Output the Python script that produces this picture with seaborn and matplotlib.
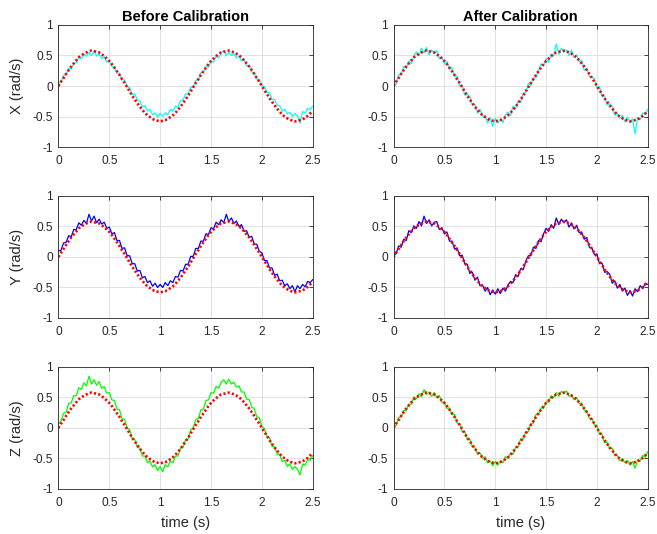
import numpy as np
import matplotlib
matplotlib.use("Agg")
import matplotlib.pyplot as plt
import seaborn as sns

# ---------------- data ----------------
time = np.linspace(0.0, 2.5, 101)

reference = [0.00, 0.07, 0.13, 0.20, 0.26, 0.32, 0.37, 0.42, 0.47, 0.50,
             0.53, 0.55, 0.57, 0.58, 0.57, 0.56, 0.55, 0.52, 0.49, 0.45,
             0.41, 0.36, 0.30, 0.24, 0.18, 0.11, 0.05, -0.02, -0.09, -0.16,
             -0.22, -0.28, -0.34, -0.39, -0.44, -0.48, -0.51, -0.54, -0.56, -0.57,
             -0.58, -0.57, -0.56, -0.54, -0.51, -0.48, -0.44, -0.39, -0.34, -0.28,
             -0.22, -0.16, -0.09, -0.02, 0.05, 0.11, 0.18, 0.24, 0.30, 0.36,
             0.41, 0.45, 0.49, 0.52, 0.55, 0.56, 0.57, 0.58, 0.57, 0.55,
             0.53, 0.50, 0.47, 0.42, 0.37, 0.32, 0.26, 0.20, 0.13, 0.07,
             0.00, -0.07, -0.13, -0.20, -0.26, -0.32, -0.37, -0.42, -0.47, -0.50,
             -0.53, -0.55, -0.57, -0.58, -0.57, -0.56, -0.55, -0.52, -0.49, -0.45,
             -0.41]

before_x = [0.05, 0.06, 0.17, 0.18, 0.29, 0.28, 0.37, 0.38, 0.47, 0.45,
            0.52, 0.49, 0.55, 0.50, 0.58, 0.49, 0.53, 0.45, 0.48, 0.39,
            0.42, 0.32, 0.32, 0.21, 0.21, 0.10, 0.10, -0.01, -0.03, -0.14,
            -0.13, -0.23, -0.25, -0.34, -0.32, -0.41, -0.38, -0.47, -0.44, -0.51,
            -0.45, -0.50, -0.44, -0.47, -0.38, -0.41, -0.33, -0.34, -0.24, -0.23,
            -0.13, -0.13, -0.02, -0.02, 0.09, 0.10, 0.22, 0.22, 0.32, 0.31,
            0.41, 0.39, 0.49, 0.46, 0.54, 0.58, 0.50, 0.55, 0.50, 0.53,
            0.46, 0.49, 0.41, 0.43, 0.33, 0.34, 0.23, 0.22, 0.11, 0.11,
            0.00, -0.01, -0.11, -0.11, -0.22, -0.22, -0.32, -0.32, -0.41, -0.38,
            -0.46, -0.43, -0.50, -0.45, -0.49, -0.61, -0.42, -0.44, -0.37, -0.39,
            -0.33]

before_y = [0.10, 0.11, 0.23, 0.24, 0.35, 0.33, 0.45, 0.45, 0.56, 0.52,
            0.60, 0.55, 0.70, 0.59, 0.67, 0.56, 0.62, 0.54, 0.57, 0.47,
            0.49, 0.38, 0.40, 0.27, 0.27, 0.14, 0.15, 0.02, 0.02, -0.11,
            -0.11, -0.23, -0.22, -0.34, -0.32, -0.42, -0.39, -0.48, -0.43, -0.50,
            -0.45, -0.50, -0.42, -0.47, -0.39, -0.42, -0.32, -0.33, -0.22, -0.23,
            -0.12, -0.12, 0.01, 0.01, 0.14, 0.14, 0.26, 0.26, 0.38, 0.37,
            0.48, 0.46, 0.57, 0.53, 0.61, 0.56, 0.70, 0.58, 0.64, 0.55,
            0.59, 0.50, 0.53, 0.42, 0.43, 0.32, 0.34, 0.21, 0.21, 0.09,
            0.07, -0.06, -0.06, -0.18, -0.18, -0.30, -0.28, -0.39, -0.38, -0.47,
            -0.44, -0.52, -0.47, -0.57, -0.47, -0.52, -0.45, -0.49, -0.40, -0.42,
            -0.37]

before_z = [0.07, 0.11, 0.24, 0.26, 0.40, 0.41, 0.53, 0.53, 0.66, 0.63,
            0.74, 0.69, 0.85, 0.72, 0.79, 0.70, 0.76, 0.65, 0.68, 0.57,
            0.58, 0.46, 0.45, 0.31, 0.30, 0.15, 0.14, 0.00, -0.03, -0.18,
            -0.19, -0.32, -0.33, -0.46, -0.46, -0.57, -0.54, -0.64, -0.60, -0.70,
            -0.63, -0.72, -0.60, -0.64, -0.54, -0.57, -0.46, -0.46, -0.33, -0.32,
            -0.19, -0.18, -0.03, 0.00, 0.14, 0.15, 0.30, 0.31, 0.45, 0.46,
            0.58, 0.57, 0.68, 0.65, 0.75, 0.79, 0.72, 0.80, 0.72, 0.75,
            0.67, 0.69, 0.59, 0.59, 0.47, 0.47, 0.34, 0.32, 0.18, 0.17,
            0.02, -0.01, -0.14, -0.16, -0.30, -0.31, -0.43, -0.43, -0.55, -0.53,
            -0.63, -0.59, -0.68, -0.63, -0.68, -0.77, -0.59, -0.61, -0.52, -0.53,
            -0.45]

after_x = [0.03, 0.03, 0.18, 0.18, 0.32, 0.29, 0.41, 0.37, 0.49, 0.56,
           0.49, 0.62, 0.54, 0.63, 0.51, 0.59, 0.53, 0.58, 0.45, 0.48,
           0.36, 0.40, 0.27, 0.30, 0.16, 0.16, 0.01, 0.01, -0.15, -0.14,
           -0.17, -0.31, -0.30, -0.44, -0.38, -0.50, -0.48, -0.61, -0.52, -0.66,
           -0.53, -0.61, -0.54, -0.60, -0.48, -0.43, -0.48, -0.33, -0.37, -0.26,
           -0.27, -0.12, -0.11, 0.04, 0.01, 0.14, 0.13, 0.26, 0.36, 0.33,
           0.45, 0.39, 0.52, 0.50, 0.69, 0.52, 0.62, 0.55, 0.59, 0.50,
           0.59, 0.47, 0.51, 0.40, 0.42, 0.26, 0.29, 0.16, 0.15, 0.12,
           -0.03, -0.01, -0.17, -0.18, -0.31, -0.29, -0.33, -0.48, -0.45, -0.53,
           -0.48, -0.59, -0.51, -0.60, -0.54, -0.78, -0.51, -0.55, -0.44, -0.47,
           -0.38]

after_y = [0.04, 0.05, 0.18, 0.16, 0.29, 0.27, 0.43, 0.40, 0.51, 0.47,
           0.58, 0.51, 0.67, 0.55, 0.61, 0.51, 0.57, 0.58, 0.45, 0.48,
           0.38, 0.41, 0.26, 0.26, 0.13, 0.15, 0.02, 0.03, -0.11, -0.12,
           -0.27, -0.25, -0.38, -0.33, -0.47, -0.46, -0.56, -0.50, -0.62, -0.54,
           -0.61, -0.52, -0.60, -0.51, -0.56, -0.46, -0.40, -0.42, -0.29, -0.32,
           -0.19, -0.21, -0.07, 0.02, 0.02, 0.16, 0.14, 0.27, 0.25, 0.38,
           0.47, 0.42, 0.53, 0.47, 0.64, 0.53, 0.62, 0.56, 0.61, 0.49,
           0.56, 0.46, 0.52, 0.40, 0.41, 0.29, 0.32, 0.16, 0.15, 0.04,
           0.05, -0.11, -0.10, -0.25, -0.24, -0.28, -0.43, -0.39, -0.51, -0.45,
           -0.56, -0.51, -0.63, -0.55, -0.64, -0.52, -0.57, -0.47, -0.52, -0.43,
           -0.45]

after_z = [0.02, 0.04, 0.17, 0.18, 0.29, 0.28, 0.39, 0.39, 0.51, 0.48,
           0.56, 0.51, 0.63, 0.55, 0.59, 0.52, 0.58, 0.50, 0.53, 0.42,
           0.43, 0.32, 0.33, 0.22, 0.22, 0.08, 0.07, -0.06, -0.06, -0.18,
           -0.18, -0.31, -0.32, -0.43, -0.41, -0.50, -0.47, -0.57, -0.54, -0.62,
           -0.55, -0.61, -0.54, -0.57, -0.47, -0.50, -0.41, -0.43, -0.32, -0.31,
           -0.18, -0.18, -0.06, -0.06, 0.07, 0.08, 0.22, 0.22, 0.33, 0.32,
           0.43, 0.42, 0.53, 0.50, 0.58, 0.52, 0.60, 0.56, 0.61, 0.52,
           0.55, 0.46, 0.50, 0.40, 0.41, 0.29, 0.28, 0.16, 0.16, 0.05,
           0.04, -0.10, -0.11, -0.24, -0.23, -0.34, -0.33, -0.45, -0.45, -0.54,
           -0.50, -0.57, -0.53, -0.61, -0.55, -0.66, -0.52, -0.54, -0.45, -0.48,
           -0.39]

axis_names = ["X", "Y", "Z"]
axis_colors = ["#00FFFF", "#0000FF", "#00FF00"]
column_titles = ["Before Calibration", "After Calibration"]
x_ticks = [0, 0.5, 1, 1.5, 2, 2.5]
x_tick_labels = ["0", "0.5", "1", "1.5", "2", "2.5"]
y_ticks = [-1, -0.5, 0, 0.5, 1]
y_tick_labels = ["-1", "-0.5", "0", "0.5", "1"]

series = [[before_x, after_x], [before_y, after_y], [before_z, after_z]]

# ---------------- style ----------------
sns.set_theme(style="white")
plt.rcParams["font.family"] = ["Liberation Sans", "DejaVu Sans"]
plt.rcParams["axes.unicode_minus"] = False

dark = "#262626"
fig = plt.figure(figsize=(6.57, 5.34), dpi=100)

lefts = [0.089, 0.599]
width = 0.387
bottoms = [0.7247, 0.4045, 0.0843]
height = 0.2285

for r in range(3):
    for c in range(2):
        ax = fig.add_axes([lefts[c], bottoms[r], width, height])
        sns.lineplot(x=time, y=series[r][c], ax=ax, color=axis_colors[r],
                     linewidth=0.9, sort=False)
        sns.lineplot(x=time, y=reference, ax=ax, color="#FF0000",
                     linewidth=1.9, linestyle=(0, (0.8, 0.85)), sort=False)
        ax.set_xlim(0, 2.5)
        ax.set_ylim(-1, 1)
        ax.set_xticks(x_ticks)
        ax.set_xticklabels(x_tick_labels)
        ax.set_yticks(y_ticks)
        ax.set_yticklabels(y_tick_labels)
        ax.grid(True, color="#DCDCDC", linewidth=0.6)
        ax.set_axisbelow(True)
        for sp in ax.spines.values():
            sp.set_visible(True)
            sp.set_color(dark)
            sp.set_linewidth(0.6)
        ax.tick_params(direction="in", top=True, right=True, length=3,
                       width=0.6, colors=dark, labelsize=8.6)
        ax.tick_params(axis="x", pad=6)
        ax.tick_params(axis="y", pad=4)
        ax.set_xlabel("")
        ax.set_ylabel("")
        if c == 0:
            ax.set_ylabel(f"{axis_names[r]} (rad/s)", fontsize=10.5,
                          color=dark, labelpad=6)
        if r == 0:
            ax.set_title(column_titles[c], fontsize=10.5, fontweight="bold",
                         color="black", pad=3)
        if r == 2:
            ax.set_xlabel("time (s)", fontsize=10.5, color=dark, labelpad=5)

fig.savefig("out.png", dpi=100)
